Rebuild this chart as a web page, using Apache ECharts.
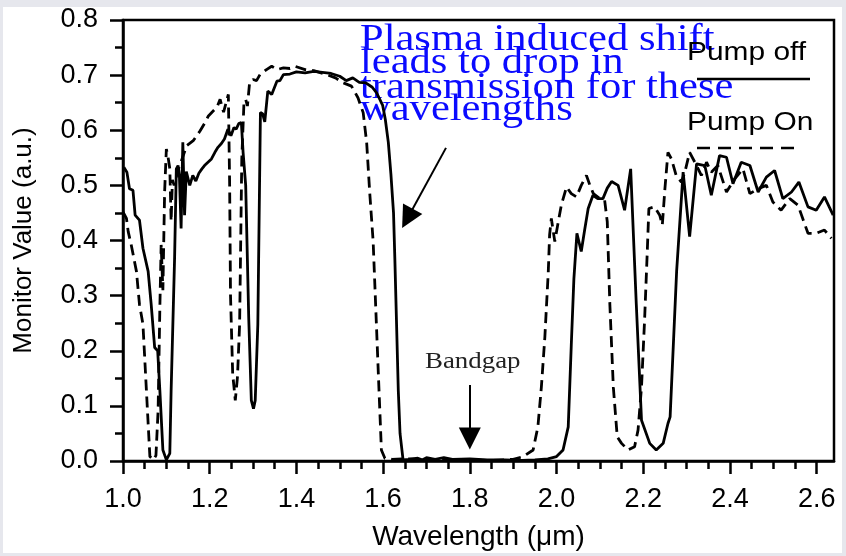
<!DOCTYPE html>
<html>
<head>
<meta charset="utf-8">
<script src="https://cdn.jsdelivr.net/npm/echarts@6/dist/echarts.min.js"></script>
<style>
  html, body { margin: 0; padding: 0; background: #e6e7ed; }
  #panel { position: absolute; left: 3px; top: 7px; width: 839px; height: 546px; background: #fff; }
  #chart { position: absolute; left: 0; top: 0; width: 846px; height: 556px; }
</style>
</head>
<body>
<div id="panel"></div>
<div id="chart"></div>
<script>
// Pump off (solid) - wavelength (um) and monitor value
const offWl = [1.002, 1.005, 1.009, 1.015, 1.023, 1.028, 1.038, 1.046, 1.058, 1.065, 1.073, 1.080, 1.085, 1.092, 1.100, 1.108, 1.111, 1.119, 1.123, 1.127, 1.130, 1.134, 1.138, 1.142, 1.146, 1.154, 1.161, 1.168, 1.175, 1.182, 1.188, 1.196, 1.204, 1.212, 1.219, 1.227, 1.234, 1.242, 1.249, 1.256, 1.261, 1.267, 1.273, 1.277, 1.283, 1.290, 1.296, 1.301, 1.305, 1.311, 1.317, 1.322, 1.327, 1.334, 1.343, 1.355, 1.362, 1.370, 1.385, 1.400, 1.420, 1.440, 1.460, 1.480, 1.500, 1.515, 1.530, 1.545, 1.560, 1.575, 1.585, 1.599, 1.605, 1.612, 1.618, 1.624, 1.627, 1.631, 1.635, 1.639, 1.646, 1.660, 1.680, 1.690, 1.700, 1.720, 1.740, 1.760, 1.800, 1.840, 1.880, 1.920, 1.950, 1.980, 2.000, 2.015, 2.027, 2.034, 2.040, 2.047, 2.057, 2.065, 2.073, 2.084, 2.095, 2.107, 2.117, 2.127, 2.142, 2.157, 2.171, 2.184, 2.196, 2.215, 2.230, 2.246, 2.257, 2.262, 2.277, 2.292, 2.307, 2.323, 2.342, 2.357, 2.376, 2.392, 2.407, 2.426, 2.446, 2.465, 2.484, 2.503, 2.522, 2.542, 2.559, 2.580, 2.599, 2.618, 2.638];
const offVal = [0.533, 0.535, 0.524, 0.494, 0.491, 0.446, 0.437, 0.386, 0.344, 0.284, 0.206, 0.200, 0.128, 0.020, 0.002, 0.014, 0.128, 0.368, 0.530, 0.536, 0.520, 0.422, 0.578, 0.446, 0.525, 0.500, 0.518, 0.508, 0.522, 0.530, 0.536, 0.542, 0.548, 0.560, 0.569, 0.576, 0.584, 0.602, 0.590, 0.605, 0.602, 0.612, 0.614, 0.560, 0.500, 0.260, 0.110, 0.095, 0.110, 0.248, 0.632, 0.630, 0.615, 0.671, 0.665, 0.689, 0.690, 0.701, 0.702, 0.706, 0.704, 0.707, 0.705, 0.703, 0.698, 0.690, 0.695, 0.687, 0.686, 0.678, 0.668, 0.645, 0.620, 0.578, 0.520, 0.450, 0.368, 0.248, 0.128, 0.050, 0.002, 0.003, 0.005, 0.002, 0.006, 0.003, 0.006, 0.003, 0.004, 0.002, 0.002, 0.001, 0.002, 0.004, 0.008, 0.020, 0.062, 0.210, 0.330, 0.413, 0.380, 0.420, 0.458, 0.482, 0.476, 0.476, 0.495, 0.507, 0.500, 0.455, 0.530, 0.284, 0.074, 0.032, 0.020, 0.032, 0.068, 0.080, 0.344, 0.524, 0.407, 0.539, 0.536, 0.482, 0.554, 0.551, 0.503, 0.542, 0.536, 0.488, 0.515, 0.527, 0.476, 0.488, 0.506, 0.461, 0.455, 0.479, 0.446];

// Pump On (dashed)
const onWl = [1.000, 1.008, 1.012, 1.019, 1.031, 1.038, 1.046, 1.054, 1.062, 1.070, 1.076, 1.081, 1.085, 1.088, 1.092, 1.096, 1.100, 1.104, 1.108, 1.111, 1.114, 1.118, 1.128, 1.135, 1.147, 1.162, 1.178, 1.190, 1.197, 1.212, 1.218, 1.224, 1.232, 1.243, 1.246, 1.248, 1.253, 1.259, 1.264, 1.269, 1.274, 1.279, 1.283, 1.287, 1.292, 1.300, 1.308, 1.316, 1.331, 1.343, 1.355, 1.370, 1.385, 1.397, 1.420, 1.440, 1.470, 1.490, 1.508, 1.527, 1.542, 1.554, 1.562, 1.569, 1.577, 1.583, 1.589, 1.596, 1.604, 1.620, 1.650, 1.700, 1.750, 1.800, 1.850, 1.900, 1.923, 1.946, 1.957, 1.965, 1.973, 1.981, 1.984, 1.988, 1.996, 2.004, 2.011, 2.023, 2.034, 2.046, 2.057, 2.069, 2.077, 2.085, 2.100, 2.111, 2.117, 2.123, 2.131, 2.140, 2.150, 2.165, 2.180, 2.188, 2.196, 2.203, 2.209, 2.213, 2.226, 2.238, 2.244, 2.250, 2.257, 2.265, 2.276, 2.288, 2.296, 2.307, 2.323, 2.334, 2.346, 2.357, 2.372, 2.392, 2.411, 2.430, 2.446, 2.465, 2.484, 2.499, 2.518, 2.538, 2.557, 2.580, 2.599, 2.618, 2.634];
const onVal = [0.452, 0.440, 0.416, 0.392, 0.344, 0.284, 0.248, 0.128, 0.008, 0.002, 0.010, 0.092, 0.278, 0.392, 0.310, 0.488, 0.566, 0.551, 0.530, 0.435, 0.510, 0.500, 0.530, 0.545, 0.572, 0.581, 0.599, 0.615, 0.626, 0.638, 0.644, 0.656, 0.633, 0.665, 0.500, 0.300, 0.158, 0.110, 0.152, 0.248, 0.548, 0.650, 0.656, 0.644, 0.686, 0.692, 0.690, 0.701, 0.710, 0.716, 0.710, 0.713, 0.712, 0.716, 0.710, 0.708, 0.701, 0.695, 0.686, 0.680, 0.659, 0.632, 0.578, 0.488, 0.398, 0.278, 0.158, 0.020, 0.005, 0.003, 0.004, 0.003, 0.002, 0.002, 0.001, 0.003, 0.008, 0.020, 0.062, 0.134, 0.224, 0.344, 0.410, 0.440, 0.398, 0.434, 0.464, 0.497, 0.485, 0.479, 0.500, 0.518, 0.500, 0.485, 0.476, 0.473, 0.434, 0.284, 0.134, 0.044, 0.032, 0.020, 0.026, 0.056, 0.134, 0.254, 0.374, 0.458, 0.461, 0.446, 0.428, 0.494, 0.560, 0.548, 0.518, 0.506, 0.524, 0.560, 0.536, 0.518, 0.542, 0.524, 0.536, 0.488, 0.512, 0.530, 0.485, 0.494, 0.500, 0.470, 0.455, 0.476, 0.464, 0.413, 0.413, 0.419, 0.404];

const xTicks = [1.0, 1.2, 1.4, 1.6, 1.8, 2.0, 2.2, 2.4, 2.6];
const xMinorTicks = [1.05, 1.1, 1.15, 1.25, 1.3, 1.35, 1.45, 1.5, 1.55, 1.65, 1.7, 1.75, 1.85, 1.9, 1.95, 2.05, 2.1, 2.15, 2.25, 2.3, 2.35, 2.45, 2.5, 2.55];

// arrows, in data coords: [start, end]
const shiftArrow = [[1.745, 0.568], [1.656, 0.440]];
const bandgapArrow = [[1.8, 0.138], [1.8, 0.041]];

const offData = offWl.map((w, i) => [w, offVal[i]]);
const onData = onWl.map((w, i) => [w, onVal[i]]);

const chart = echarts.init(document.getElementById('chart'));
const sans = 'Liberation Sans, Arial, sans-serif';
const serif = 'Liberation Serif, Times New Roman, serif';

const option = {
  animation: false,
  backgroundColor: 'transparent',
  grid: {
    left: 123, right: 12, top: 20, bottom: 92,
    show: true, borderColor: '#000', borderWidth: 2.5, backgroundColor: 'transparent'
  },
  xAxis: [
    {
      type: 'value', min: 1.0, max: 2.64, interval: 0.2,
      name: 'Wavelength (μm)', nameLocation: 'middle', nameGap: 62,
      nameTextStyle: { fontFamily: sans, fontSize: 28, color: '#000' },
      axisLine: { show: true, lineStyle: { color: '#000', width: 2.5 } },
      axisTick: { show: true, length: 13, customValues: xTicks, lineStyle: { color: '#000', width: 2.5 } },
      axisLabel: { customValues: xTicks, margin: 25, fontFamily: sans, fontSize: 27, color: '#000',
        formatter: v => v.toFixed(1) },
      splitLine: { show: false }
    },
    {
      type: 'value', min: 1.0, max: 2.64, position: 'bottom',
      axisLine: { show: false },
      axisTick: { show: true, length: 8, customValues: xMinorTicks, lineStyle: { color: '#000', width: 2.5 } },
      axisLabel: { show: false },
      splitLine: { show: false }
    }
  ],
  yAxis: {
    type: 'value', min: 0, max: 0.8, interval: 0.1,
    name: 'Monitor Value (a.u.)', nameLocation: 'middle', nameGap: 86,
    nameTextStyle: { fontFamily: sans, fontSize: 26, color: '#000' },
    axisLine: { show: true, lineStyle: { color: '#000', width: 2.5 } },
    axisTick: { show: true, length: 13, lineStyle: { color: '#000', width: 2.5 } },
    minorTick: { show: true, splitNumber: 2, length: 8, lineStyle: { color: '#000', width: 2.5 } },
    axisLabel: { margin: 25, fontFamily: sans, fontSize: 27, color: '#000', formatter: v => v.toFixed(1) },
    splitLine: { show: false }
  },
  series: [
    {
      name: 'Pump off', type: 'line', data: offData, showSymbol: false, silent: true,
      lineStyle: { color: '#000', width: 2.8 },
      markLine: {
        silent: true, animation: false,
        symbol: ['none', 'triangle'], symbolSize: 22,
        label: { show: false },
        lineStyle: { color: '#000', width: 2, type: 'solid' },
        itemStyle: { color: '#000' },
        data: [
          [{ coord: shiftArrow[0] }, { coord: shiftArrow[1] }],
          [{ coord: bandgapArrow[0] }, { coord: bandgapArrow[1] }]
        ]
      }
    },
    {
      name: 'Pump On', type: 'line', data: onData, showSymbol: false, silent: true,
      lineStyle: { color: '#000', width: 2.8, type: [11, 6] }
    }
  ],
  graphic: [
    // annotation
    { type: 'text', x: 360, y: 40, scaleX: 1.15, style: { text: 'Plasma induced shift', fontFamily: serif, fontSize: 37, fill: '#0a0aff', verticalAlign: 'middle' } },
    { type: 'text', x: 360, y: 63.5, scaleX: 1.15, style: { text: 'leads to drop in', fontFamily: serif, fontSize: 37, fill: '#0a0aff', verticalAlign: 'middle' } },
    { type: 'text', x: 360, y: 88.5, scaleX: 1.15, style: { text: 'transmission for these', fontFamily: serif, fontSize: 37, fill: '#0a0aff', verticalAlign: 'middle' } },
    { type: 'text', x: 360, y: 110, scaleX: 1.15, style: { text: 'wavelengths', fontFamily: serif, fontSize: 37, fill: '#0a0aff', verticalAlign: 'middle' } },
    { type: 'text', x: 425, y: 362, scaleX: 1.12, style: { text: 'Bandgap', fontFamily: serif, fontSize: 24, fill: '#222', verticalAlign: 'middle' } },
    // legend
    { type: 'text', x: 687, y: 53, scaleX: 1.15, style: { text: 'Pump off', fontFamily: sans, fontSize: 26, fill: '#000', verticalAlign: 'middle' } },
    { type: 'line', shape: { x1: 697, y1: 79, x2: 810, y2: 79 }, style: { stroke: '#000', lineWidth: 2.5 } },
    { type: 'text', x: 687, y: 123, scaleX: 1.15, style: { text: 'Pump On', fontFamily: sans, fontSize: 26, fill: '#000', verticalAlign: 'middle' } },
    { type: 'line', shape: { x1: 697, y1: 148, x2: 800, y2: 148 }, style: { stroke: '#000', lineWidth: 2.5, lineDash: [13, 8] } }
  ]
};
chart.setOption(option);
</script>
</body>
</html>
